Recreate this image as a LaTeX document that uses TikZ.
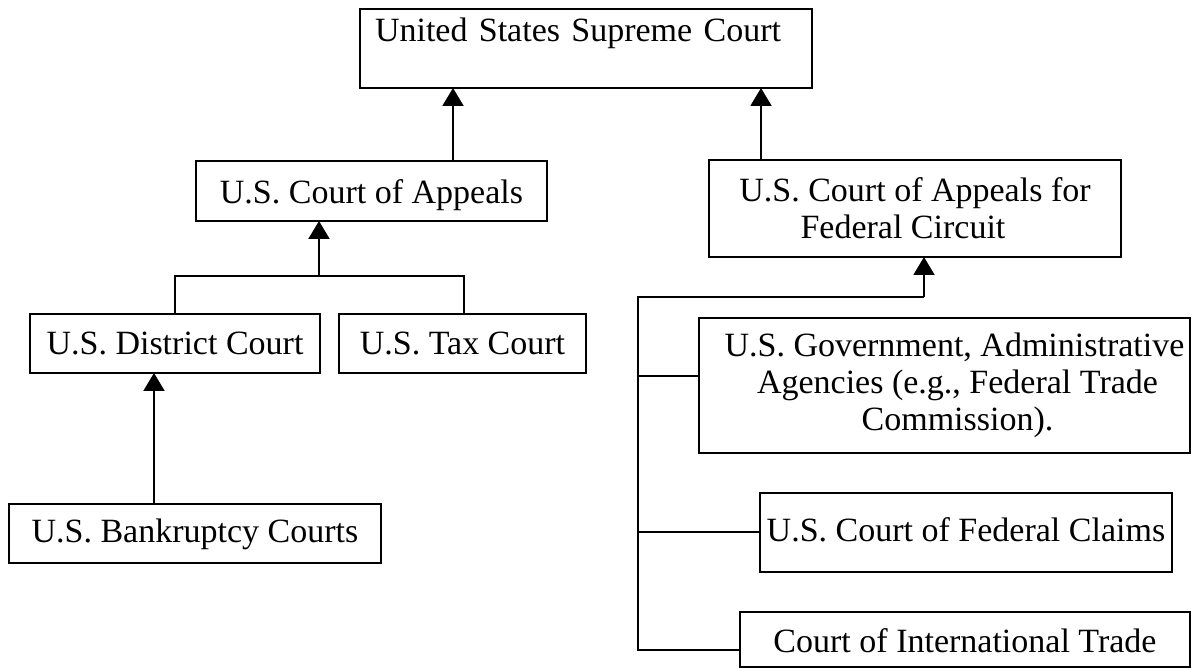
\documentclass[tikz,border=0pt]{standalone}
\usepackage{fontspec}
\setmainfont{Liberation Serif}
\usetikzlibrary{arrows.meta}
\begin{document}
\begin{tikzpicture}[x=1pt,y=-1pt,
  box/.style={draw, line width=2.2pt, inner xsep=0pt, inner ysep=0pt, outer sep=0pt,
    anchor=north west, font=\fontsize{34}{37}\selectfont, align=center},
  link/.style={line width=2pt},
  arr/.style={link, -{Triangle[width=21pt,length=18pt]}}]
\useasboundingbox[fill=white] (0,0) rectangle (1192,668);

% boxes
\node[box, align=left, text width=422pt, inner xsep=15pt, text height=33pt, text depth=46pt]
  (sup) at (360,9) {United States Supreme Court};
\node[box, minimum width=351pt, text height=43pt, text depth=17pt]
  (app) at (196,161) {U.S. Court of Appeals};
\node[box, minimum width=412pt, minimum height=97pt]
  (fed) at (709,160) {U.S. Court of Appeals for\\Federal Circuit\hspace*{24pt}};
\node[box, minimum width=290pt, text height=41pt, text depth=18pt]
  (dist) at (30,314) {U.S. District Court};
\node[box, minimum width=247pt, text height=41pt, text depth=18pt]
  (tax) at (339,314) {U.S. Tax Court};
\node[box, minimum width=372pt, text height=38pt, text depth=21pt]
  (bank) at (9,504) {U.S. Bankruptcy Courts};
\node[box, minimum width=491pt, minimum height=135pt]
  (govt) at (699,318) {\hspace*{20pt}U.S. Government, Administrative\\
    \hspace*{26pt}Agencies (e.g., Federal Trade\\\hspace*{26pt}Commission).};
\node[box, minimum width=412pt, text height=48pt, text depth=31pt]
  (claims) at (760,493) {U.S. Court of Federal Claims};
\node[box, minimum width=450pt, text height=40pt, text depth=15pt]
  (trade) at (740,612) {Court of International Trade};

% junctions
\coordinate (jL) at (319,276);
\coordinate (jR) at (924,297);
\coordinate (bus) at (638,297);

% connectors
\draw[arr] (app.north -| 453,0) -- (sup.south -| 453,0);
\draw[arr] (fed.north -| 761,0) -- (sup.south -| 761,0);
\draw[link] (dist.north -| 175,0) -- (175,276) -- (464,276) -- (tax.north -| 464,0);
\draw[arr] (jL) -- (app.south -| jL);
\draw[arr] (bank.north -| 154,0) -- (dist.south -| 154,0);
\draw[link] (trade.west |- 0,650) -| (bus) -- (jR);
\draw[arr] (jR) -- (fed.south -| jR);
\draw[link] (govt.west |- 0,376) -- (bus |- 0,376);
\draw[link] (claims.west |- 0,532) -- (bus |- 0,532);
\end{tikzpicture}
\end{document}
